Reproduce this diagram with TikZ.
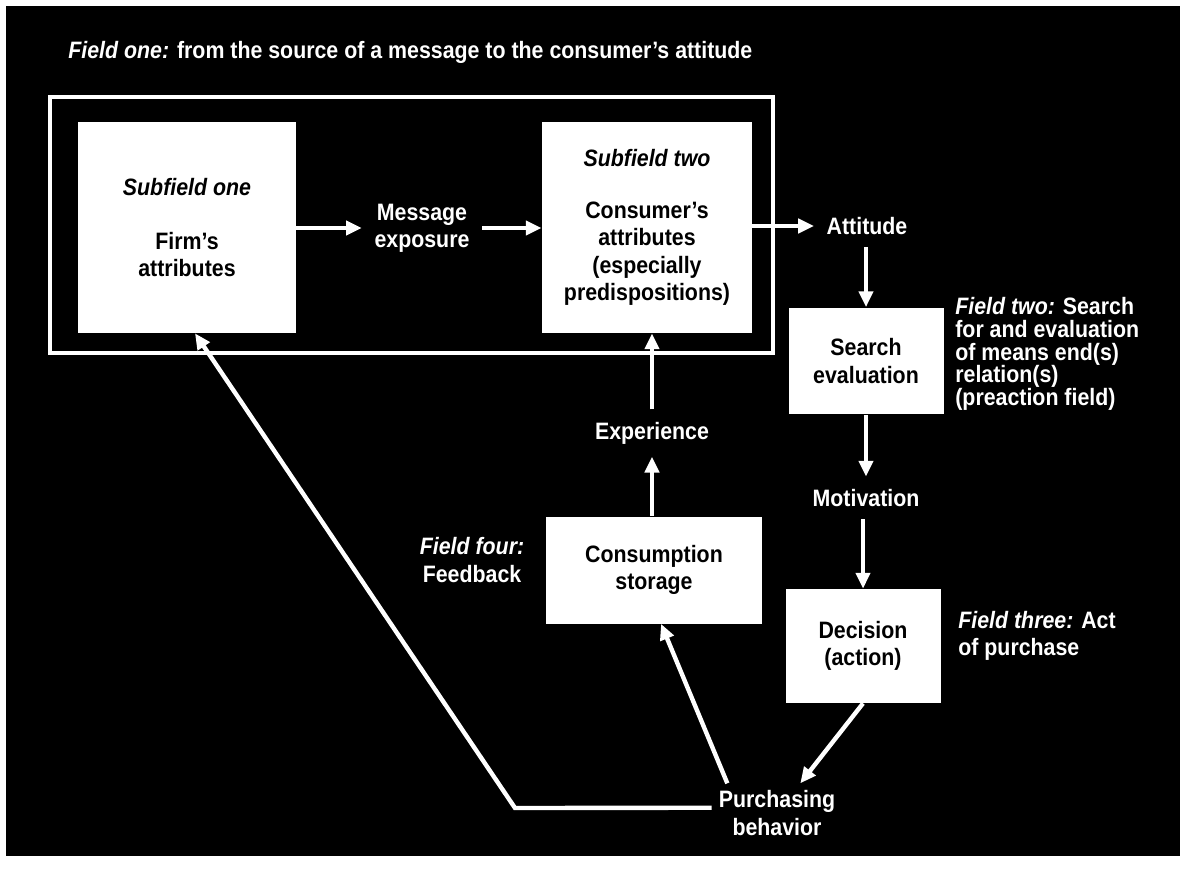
\documentclass[tikz,border=0pt]{standalone}
\usepackage{fontspec}
\setmainfont{Liberation Sans}[FakeStretch=0.9]
\usetikzlibrary{arrows.meta}

\begin{document}
\begin{tikzpicture}[x=0.02cm, y=-0.02cm, font=\fontsize{13.5}{15.5}\selectfont\bfseries,
  box/.style={fill=white, text=black, align=center, inner sep=0pt},
  lbl/.style={text=white, align=center, inner sep=7pt},
  arr/.style={draw=white, line width=2.5pt, -{Triangle[length=9pt, width=8pt]}}]
\useasboundingbox (0,0) rectangle (1189,869);
\fill [black] (6,6) rectangle (1180,856);

\node [lbl, anchor=west, inner sep=0pt] (title) at (68,52) {\textit{Field one:} from the source of a message to the consumer's attitude};
\node [draw=white, line width=2.3pt, minimum width=14.46cm, minimum height=5.12cm] (frame) at (411.5,225) {};

\node [box, minimum width=4.36cm, minimum height=4.22cm] (firm) at (187,227.5) {\textit{Subfield one}\\[15pt]Firm's\\attributes};
\node [lbl] (msg) at (422,228) {Message\\exposure};
\node [box, minimum width=4.2cm, minimum height=4.22cm] (consumer) at (647,227.5) {\textit{Subfield two}\\[14pt]Consumer's\\attributes\\(especially\\predispositions)};
\node [lbl] (attitude) at (867,226) {Attitude};

\node [box, minimum width=3.1cm, minimum height=2.14cm] (search) at (866,361) {Search\\evaluation};
\node [lbl, anchor=west, align=left, inner sep=0pt, font=\fontsize{13.5}{13}\selectfont\bfseries] (fieldtwo) at (955,354) {\textit{Field two:} Search\\for and evaluation\\of means end(s)\\relation(s)\\(preaction field)};
\node [lbl] (motivation) at (866,498) {Motivation};

\node [box, minimum width=3.1cm, minimum height=2.28cm] (decision) at (863,646) {Decision\\(action)};
\node [lbl, anchor=west, align=left, inner sep=0pt] (fieldthree) at (958,636) {\textit{Field three:} Act\\of purchase};

\node [box, minimum width=4.32cm, minimum height=2.14cm] (consumption) at (654,570) {Consumption\\storage};
\node [lbl] (experience) at (652,433) {Experience};
\node [lbl, inner sep=0pt] (fieldfour) at (472,560) {\textit{Field four:}\\Feedback};
\node [lbl, inner sep=4pt] (purchasing) at (777,813) {Purchasing\\behavior};

\coordinate (bend) at (515,808);

\draw [arr] (firm.east |- msg) -- (msg.west);
\draw [arr] (msg.east) -- (consumer.west |- msg.east);
\draw [arr] (consumer.east |- attitude) -- (attitude.west);
\draw [arr] (attitude.south -| search.north) -- (search.north);
\draw [arr] (search.south) -- (motivation.north -| search.south);
\draw [arr] (motivation.south -| decision.north) -- (decision.north);
\draw [arr] (decision.south) -- (purchasing);
\draw [arr] ([xshift=9pt]purchasing.north west) -- ([xshift=4pt]consumption.south);
\draw [arr] (consumption.north -| experience) -- (experience.south);
\draw [arr] (experience.north) -- (experience.north |- consumer.south);
\draw [arr] ([yshift=3pt]purchasing.west) -- (bend) -- ([xshift=0.16cm]firm.south);
\end{tikzpicture}
\end{document}
